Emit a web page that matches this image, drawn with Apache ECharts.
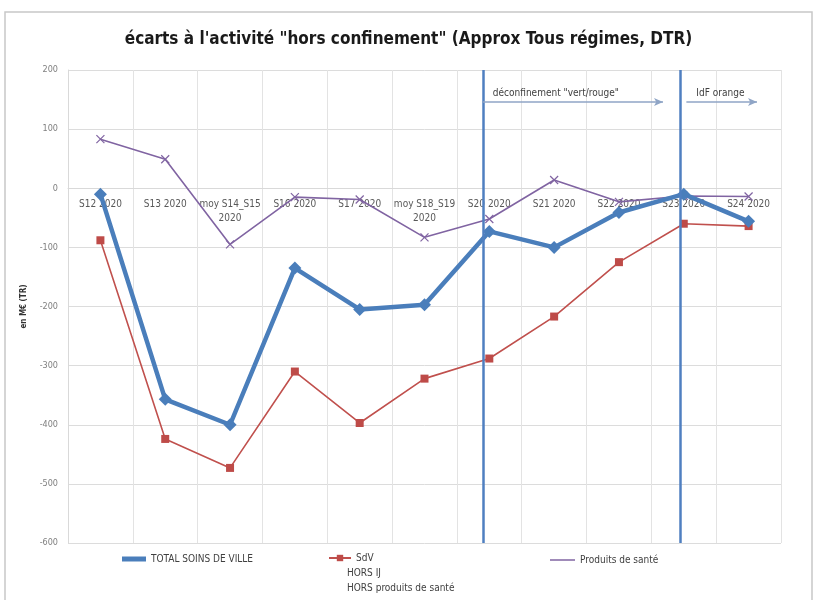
<!DOCTYPE html>
<html><head><meta charset="utf-8">
<script src="https://cdn.jsdelivr.net/npm/echarts@6/dist/echarts.min.js"></script>
<style>html,body{margin:0;padding:0;background:#fff}#c{width:817px;height:600px}</style>
</head><body><div id="c"></div>
<script>
const categories = ['S12 2020','S13 2020','moy S14_S15\n2020','S16 2020','S17 2020','moy S18_S19\n2020','S20 2020','S21 2020','S22 2020','S23 2020','S24 2020'];
const totalSoinsDeVille = [-10, -357, -400, -135, -205, -197, -73, -100, -41, -10, -56];
const sdvHorsIJ = [-88, -424, -473, -310, -397, -322, -288, -217, -125, -60, -64];
const produitsSante = [83, 49, -95, -15, -19, -83, -52, 14, -23, -13, -14];
const yTicks = {min: -600, max: 200, interval: 100};
const nameTotal = 'TOTAL SOINS DE VILLE';
const nameSdv = 'SdV\nHORS IJ\nHORS produits de santé';
const nameProd = 'Produits de santé';
const eventLines = [6.4, 9.44];
const arrows = [
  {from: 6.4, to: 9.18, y: 146, label: 'déconfinement "vert/rouge"'},
  {from: 9.54, to: 10.63, y: 146, label: 'IdF orange'}
];

const font = '"Liberation Sans Narrow", "DejaVu Sans Condensed", "Liberation Sans", sans-serif';
const chart = echarts.init(document.getElementById('c'), null, {renderer: 'canvas'});
const xPath = 'path://M0,0L10,10M10,0L0,10';
const sdvLines = nameSdv.split('\n');
const gridTop = 70, gridBottom = 57;
const plotH = 600 - gridTop - gridBottom;
const zeroOffset = -plotH * (0 - yTicks.min) / (yTicks.max - yTicks.min);

chart.setOption({
  backgroundColor: '#fff',
  animation: false,
  textStyle: {fontFamily: font},
  title: {
    text: 'écarts à l\'activité "hors confinement" (Approx Tous régimes, DTR)',
    left: 'center', top: 26,
    textStyle: {fontFamily: font, fontWeight: 'bold', fontSize: 17, color: '#1a1a1a'}
  },
  graphic: [{
    type: 'rect', shape: {x: 5, y: 12, width: 807, height: 600},
    style: {fill: 'none', stroke: '#c8c8c8', lineWidth: 1.5}, silent: true, z: -1
  }, {
    type: 'text', left: 347, top: 566, silent: true,
    style: {text: sdvLines.slice(1).join('\n'), fontFamily: font, fontSize: 10, lineHeight: 15, fill: '#404040'}
  }],
  grid: {left: 68, right: 36, top: gridTop, bottom: gridBottom, containLabel: false},
  legend: [
    {data: [{name: nameTotal, icon: 'rect', itemStyle: {borderWidth: 0}}], left: 117, top: 549, itemWidth: 24, itemHeight: 5,
     textStyle: {fontFamily: font, fontSize: 10, color: '#404040'}},
    {data: [nameSdv], left: 323, top: 548, itemWidth: 22, itemHeight: 8,
     formatter: () => sdvLines[0],
     textStyle: {fontFamily: font, fontSize: 10, color: '#404040'}},
    {data: [{name: nameProd, icon: 'rect', itemStyle: {borderWidth: 0}}], left: 545, top: 550, itemWidth: 25, itemHeight: 1.5,
     textStyle: {fontFamily: font, fontSize: 10, color: '#404040'}}
  ],
  xAxis: [{
    type: 'category', data: categories, boundaryGap: true,
    offset: zeroOffset,
    axisLine: {onZero: false, lineStyle: {color: '#d9d9d9'}},
    axisTick: {show: false},
    axisLabel: {fontFamily: font, fontSize: 10, color: '#595959', margin: 9, interval: 0, lineHeight: 14},
    splitLine: {show: true, interval: 0, lineStyle: {color: '#e3e3e3'}}
  }, {
    type: 'value', min: 0, max: 11, show: false, position: 'top',
    axisLine: {onZero: false}
  }],
  yAxis: {
    type: 'value', min: yTicks.min, max: yTicks.max, interval: yTicks.interval,
    name: 'en M€ (TR)', nameLocation: 'middle', nameGap: 40, nameRotate: 90,
    nameTextStyle: {fontFamily: font, fontSize: 8, fontWeight: 'bold', color: '#333'},
    axisLine: {show: true, onZero: false, lineStyle: {color: '#d9d9d9'}},
    axisTick: {show: false},
    axisLabel: {fontFamily: font, fontSize: 9, color: '#7f7f7f', margin: 10},
    splitLine: {lineStyle: {color: '#dcdcdc'}}
  },
  series: [
    {
      name: nameSdv, type: 'line', data: sdvHorsIJ, z: 3,
      symbol: 'rect', symbolSize: 8,
      lineStyle: {color: '#c0504d', width: 1.6},
      itemStyle: {color: '#be4b48'}
    },
    {
      name: nameProd, type: 'line', data: produitsSante, z: 2,
      symbol: xPath, symbolSize: 8,
      lineStyle: {color: '#8064a2', width: 1.6},
      itemStyle: {color: '#8064a2', borderColor: '#8064a2', borderWidth: 1.2}
    },
    {
      name: nameTotal, type: 'line', data: totalSoinsDeVille, z: 4,
      symbol: 'diamond', symbolSize: 13,
      lineStyle: {color: '#4a7ebb', width: 4.5},
      itemStyle: {color: '#4a7ebb'}
    },
    {
      type: 'line', xAxisIndex: 1, data: [], silent: true, z: 5,
      markLine: {
        silent: true, symbol: 'none', animation: false,
        lineStyle: {color: '#4f7fc0', width: 2.5, type: 'solid'},
        label: {show: false},
        data: eventLines.map(v => ({xAxis: v}))
      }
    },
    {
      type: 'line', xAxisIndex: 1, data: [], silent: true, z: 5,
      markLine: {
        silent: true, animation: false, symbol: ['none', 'arrow'], symbolSize: [6, 9],
        lineStyle: {color: '#8fa5c6', width: 1.5, type: 'solid'},
        label: {show: true, position: 'insideStartTop', distance: [10, 4], fontFamily: font, fontSize: 10, color: '#404040'},
        data: arrows.map(a => [
          {coord: [a.from, a.y], name: a.label},
          {coord: [a.to, a.y]}
        ])
      }
    }
  ]
});
</script>
</body></html>
